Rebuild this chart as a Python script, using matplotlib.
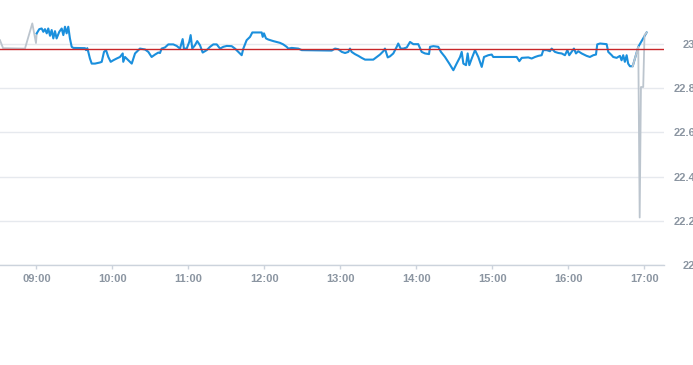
import matplotlib
matplotlib.use("Agg")
import matplotlib.pyplot as plt
from matplotlib.ticker import FuncFormatter

# minutes after 09:00 and prices
pre_minutes = [-28.8, -26.4, -9.1, -3.3, -0.4, 0.2]
pre_prices = [23.018, 22.982, 22.980, 23.094, 23.005, 23.049]

main_minutes = [
    0.2, 2.2, 4.1, 5.4, 6.7, 8.1, 9.3, 10.7, 12.0, 13.3, 14.6, 15.9, 18.0, 19.9, 21.2, 22.5,
    23.8, 25.1, 26.4, 27.8, 29.1, 38.3, 39.1, 40.1, 40.9, 42.2, 43.6, 46.2, 50.1, 51.5, 53.3,
    54.9, 56.7, 58.6, 60.6, 63.3, 65.9, 68.1, 68.5, 69.9, 72.5, 75.2, 77.8, 81.7, 85.7, 88.3,
    90.9, 93.6, 96.2, 97.5, 98.8, 101.4, 104.1, 108.0, 110.7, 113.3, 115.4, 116.4, 118.6,
    120.6, 121.7, 123.0, 125.1, 126.9, 129.1, 131.2, 134.4, 137.0, 139.6, 142.3, 144.9,
    147.5, 150.2, 154.1, 156.7, 159.3, 162.0, 163.3, 165.9, 168.6, 170.4, 177.8, 178.6,
    179.6, 181.2, 183.0, 186.9, 192.2, 194.8, 197.5, 198.8, 201.5, 206.7, 209.4, 233.1,
    235.7, 238.3, 241.0, 243.6, 246.2, 247.5, 248.8, 251.4, 254.1, 256.7, 259.4, 265.9,
    268.6, 271.2, 273.8, 275.1, 277.3, 279.1, 281.7, 284.4, 285.6, 287.5, 289.6, 292.3,
    294.9, 297.5, 301.4, 304.1, 306.7, 309.9, 310.7, 313.3, 317.2, 319.3, 322.5, 325.9,
    329.1, 331.7, 334.4, 335.7, 337.0, 339.1, 340.4, 341.7, 343.6, 346.2, 348.8, 351.5,
    353.3, 356.7, 359.4, 360.6, 379.1, 381.2, 383.1, 388.3, 390.9, 393.6, 396.2, 398.8,
    400.1, 402.8, 405.4, 406.7, 409.3, 412.0, 414.6, 417.2, 419.1, 420.6, 422.5, 424.3,
    425.9, 427.7, 430.4, 434.3, 436.9, 439.6, 441.7, 442.7, 444.9, 450.1, 451.4, 454.1,
    455.3, 458.0, 460.6, 461.9, 463.2, 464.5, 465.9, 467.1, 468.5, 470.7, 475.1, 481.7,
]
main_prices = [
    23.049, 23.068, 23.071, 23.056, 23.068, 23.049, 23.071, 23.038, 23.064, 23.026, 23.059,
    23.026, 23.056, 23.071, 23.041, 23.079, 23.049, 23.079, 23.026, 22.988, 22.983, 22.982,
    22.973, 22.982, 22.965, 22.935, 22.912, 22.912, 22.917, 22.920, 22.965, 22.973, 22.942,
    22.920, 22.927, 22.935, 22.942, 22.958, 22.920, 22.942, 22.927, 22.912, 22.958, 22.980,
    22.976, 22.965, 22.942, 22.953, 22.962, 22.960, 22.980, 22.985, 22.999, 22.999, 22.992,
    22.980, 23.023, 22.980, 22.980, 23.010, 23.041, 22.980, 22.995, 23.014, 22.995, 22.962,
    22.973, 22.988, 22.999, 22.999, 22.980, 22.988, 22.992, 22.991, 22.980, 22.965, 22.950,
    22.980, 23.018, 23.033, 23.053, 23.053, 23.033, 23.049, 23.026, 23.021, 23.014, 23.006,
    22.999, 22.988, 22.980, 22.983, 22.980, 22.973, 22.971, 22.980, 22.977, 22.965, 22.960,
    22.965, 22.980, 22.965, 22.955, 22.947, 22.938, 22.930, 22.930, 22.942, 22.953, 22.968,
    22.980, 22.940, 22.945, 22.958, 22.988, 23.003, 22.980, 22.980, 22.985, 23.010, 23.000,
    23.000, 22.965, 22.958, 22.955, 22.988, 22.991, 22.988, 22.965, 22.942, 22.912, 22.882,
    22.912, 22.942, 22.965, 22.912, 22.905, 22.958, 22.905, 22.935, 22.973, 22.942, 22.897,
    22.942, 22.950, 22.953, 22.942, 22.942, 22.923, 22.938, 22.940, 22.935, 22.942, 22.947,
    22.950, 22.973, 22.973, 22.968, 22.980, 22.965, 22.960, 22.958, 22.950, 22.973, 22.950,
    22.965, 22.980, 22.958, 22.968, 22.958, 22.947, 22.942, 22.950, 22.953, 22.999, 23.003,
    23.000, 22.965, 22.950, 22.942, 22.938, 22.947, 22.927, 22.950, 22.920, 22.950, 22.912,
    22.900, 22.900, 22.988, 23.053,
]

post_minutes = [470.7, 475.1, 476.2, 477.2, 479.0, 480.0, 481.7]
post_prices = [22.900, 22.988, 22.215, 22.806, 22.806, 23.041, 23.053]

previous_close = 22.976

y_ticks = [22.0, 22.2, 22.4, 22.6, 22.8, 23.0]
x_tick_hours = [9, 10, 11, 12, 13, 14, 15, 16, 17]


def to_hours(mins):
    return [9 + m / 60.0 for m in mins]


plt.rcParams['font.family'] = ['Liberation Sans', 'DejaVu Sans']

fig = plt.figure(figsize=(6.93, 3.65), dpi=100)
ax = fig.add_axes([0.0, 1 - 265 / 365, 664 / 693, 265 / 365])

label_color = '#8b95a1'

ax.plot(to_hours(main_minutes), main_prices, color='#1a8fdd', lw=1.5, zorder=3,
        solid_joinstyle='round')
ax.plot(to_hours(pre_minutes), pre_prices, color='#bcc5ce', lw=1.3, zorder=2)
ax.plot(to_hours(post_minutes), post_prices, color='#bcc5ce', lw=1.3, zorder=4)
ax.axhline(previous_close, color='#c8262a', lw=1.0, zorder=5)

ax.set_xlim(9 - 28.8 / 60, 9 + 495.4 / 60)
ax.set_ylim(22.0, 23.2)

ax.set_yticks(y_ticks)
ax.yaxis.set_major_formatter(FuncFormatter(lambda v, p: f"{v:g}"))
ax.yaxis.tick_right()
ax.tick_params(axis='y', length=0, pad=22.5, labelsize=8, labelcolor=label_color)
for lbl in ax.get_yticklabels():
    lbl.set_horizontalalignment('right')
    lbl.set_fontweight('bold')

ax.set_xticks(x_tick_hours)
ax.set_xticklabels([f"{h:02d}:00" for h in x_tick_hours])
ax.tick_params(axis='x', length=3, width=1, color='#ccd3dc', pad=3.5, labelsize=8,
               labelcolor=label_color)
for lbl in ax.get_xticklabels():
    lbl.set_fontweight('bold')

ax.grid(axis='y', color='#e6e9ee', lw=1.0, zorder=0)
ax.set_axisbelow(True)
for side in ['top', 'left', 'right']:
    ax.spines[side].set_visible(False)
ax.spines['bottom'].set_color('#ccd3dc')
ax.spines['bottom'].set_linewidth(1.0)

fig.savefig('out.png', dpi=100)
